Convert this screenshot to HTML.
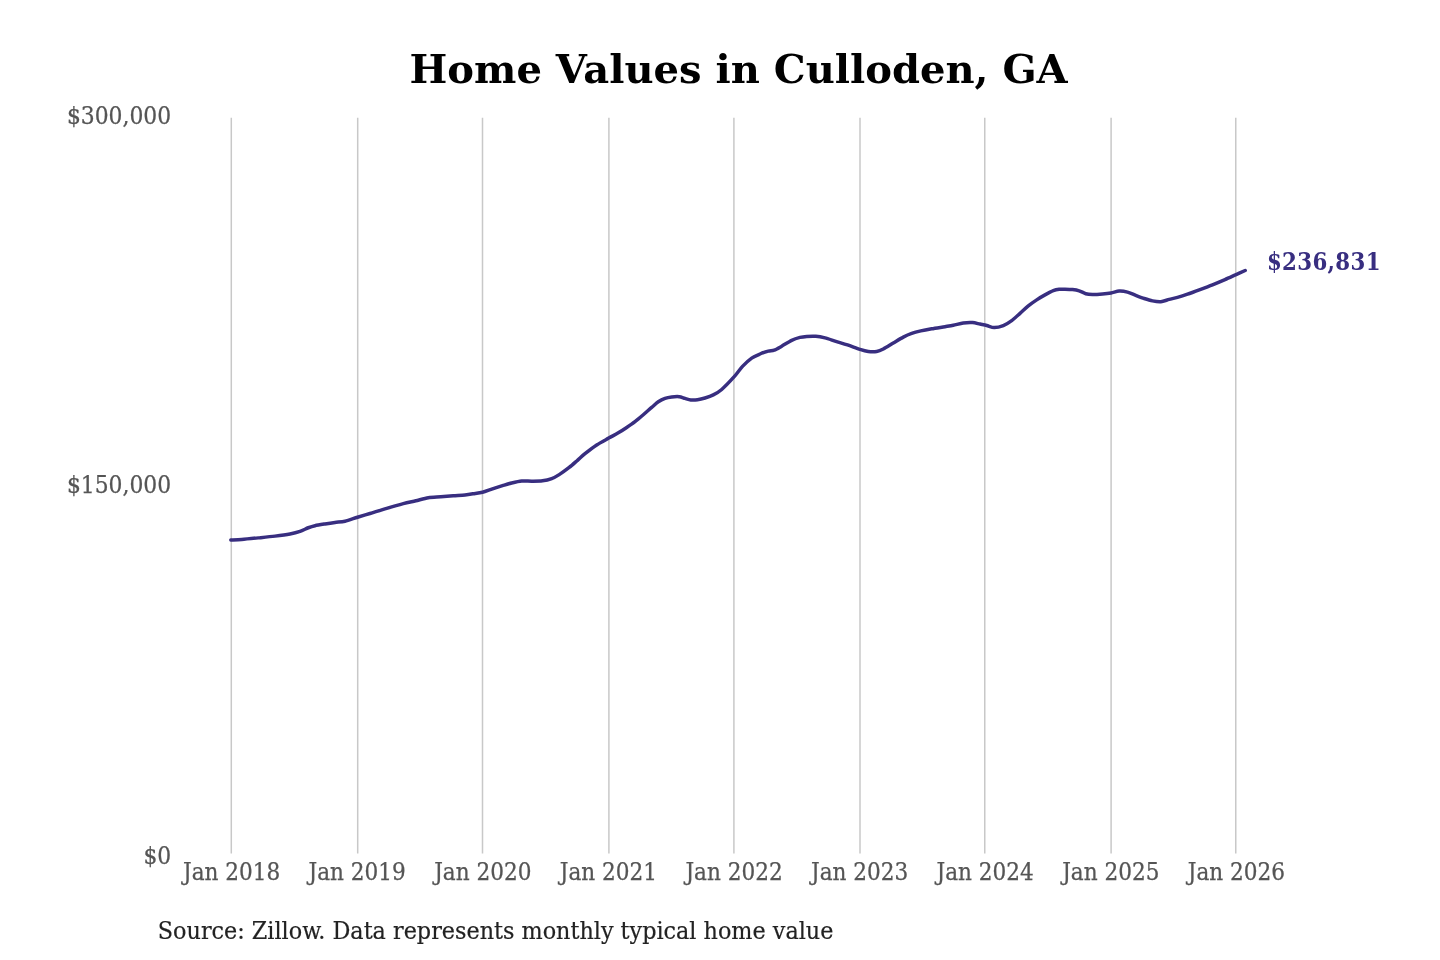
<!DOCTYPE html>
<html lang="en">
<head>
<meta charset="utf-8">
<title>Home Values in Culloden, GA</title>
<style>
html,body{margin:0;padding:0;background:#fff;}
body{width:1440px;height:960px;overflow:hidden;font-family:"DejaVu Serif","Liberation Serif",serif;}
svg{display:block;}
text{font-family:"DejaVu Serif","Liberation Serif",serif;}
.title{font-size:40.06px;font-weight:bold;fill:#000;}
.tick{font-family:"DejaVu Serif Condensed","DejaVu Serif","Liberation Serif",serif;font-stretch:condensed;font-size:24px;fill:#555;stroke:#555;stroke-width:0.25px;}
.ytick{font-size:24.3px;}
.src{font-family:"DejaVu Serif Condensed","DejaVu Serif","Liberation Serif",serif;font-stretch:condensed;font-size:24.8px;fill:#222;stroke:#222;stroke-width:0.2px;}
.end{font-family:"DejaVu Serif Condensed","DejaVu Serif","Liberation Serif",serif;font-stretch:condensed;font-size:23.7px;letter-spacing:0.35px;font-weight:bold;fill:#382e80;}
</style>
</head>
<body>
<svg width="1440" height="960" viewBox="0 0 1440 960">
<rect width="1440" height="960" fill="#ffffff"/>
<text class="title" x="738.6" y="82.8" text-anchor="middle">Home Values in Culloden, GA</text>
<g stroke="#c8c8c8" stroke-width="1.5">
<line x1="231.30" y1="117.8" x2="231.30" y2="853.5"/>
<line x1="357.70" y1="117.8" x2="357.70" y2="853.5"/>
<line x1="482.50" y1="117.8" x2="482.50" y2="853.5"/>
<line x1="608.90" y1="117.8" x2="608.90" y2="853.5"/>
<line x1="733.90" y1="117.8" x2="733.90" y2="853.5"/>
<line x1="860.00" y1="117.8" x2="860.00" y2="853.5"/>
<line x1="984.75" y1="117.8" x2="984.75" y2="853.5"/>
<line x1="1111.10" y1="117.8" x2="1111.10" y2="853.5"/>
<line x1="1235.75" y1="117.8" x2="1235.75" y2="853.5"/>
</g>
<text class="tick ytick" x="171.2" y="124.4" text-anchor="end">$300,000</text>
<text class="tick ytick" x="171.2" y="492.7" text-anchor="end">$150,000</text>
<text class="tick ytick" x="171.2" y="863.8" text-anchor="end">$0</text>
<text class="tick" x="231.60" y="879.5" text-anchor="middle">Jan 2018</text>
<text class="tick" x="357.20" y="879.5" text-anchor="middle">Jan 2019</text>
<text class="tick" x="482.80" y="879.5" text-anchor="middle">Jan 2020</text>
<text class="tick" x="608.40" y="879.5" text-anchor="middle">Jan 2021</text>
<text class="tick" x="734.00" y="879.5" text-anchor="middle">Jan 2022</text>
<text class="tick" x="859.60" y="879.5" text-anchor="middle">Jan 2023</text>
<text class="tick" x="985.20" y="879.5" text-anchor="middle">Jan 2024</text>
<text class="tick" x="1110.80" y="879.5" text-anchor="middle">Jan 2025</text>
<text class="tick" x="1236.40" y="879.5" text-anchor="middle">Jan 2026</text>
<path d="M230.80,540.00 C232.33,539.92 237.85,539.75 241.70,539.45 C245.55,539.16 253.64,538.35 258.30,537.88 C262.96,537.41 270.56,536.67 275.00,536.12 C279.44,535.57 286.50,534.61 290.00,533.95 C293.50,533.29 297.44,532.27 300.00,531.40 C302.56,530.53 306.20,528.56 308.30,527.76 C310.40,526.96 312.66,526.22 315.00,525.68 C317.34,525.14 322.20,524.36 325.00,523.90 C327.80,523.44 332.20,522.77 335.00,522.40 C337.80,522.03 341.85,521.97 345.00,521.25 C348.15,520.53 354.00,518.32 357.50,517.23 C361.00,516.15 365.91,514.72 370.00,513.47 C374.09,512.22 382.04,509.69 386.70,508.31 C391.36,506.92 399.23,504.65 403.30,503.59 C407.37,502.53 412.30,501.55 415.80,500.73 C419.30,499.91 424.80,498.29 428.30,497.74 C431.80,497.19 437.30,497.08 440.80,496.80 C444.30,496.52 449.91,496.04 453.30,495.78 C456.69,495.51 462.20,495.18 465.00,494.90 C467.80,494.62 470.85,494.15 473.30,493.78 C475.75,493.42 479.81,492.99 482.50,492.30 C485.19,491.61 489.70,489.76 492.50,488.84 C495.30,487.91 499.81,486.50 502.50,485.68 C505.19,484.86 509.01,483.63 511.70,482.98 C514.39,482.33 518.90,481.27 521.70,481.02 C524.50,480.76 528.79,481.19 531.70,481.17 C534.61,481.14 539.70,481.17 542.50,480.82 C545.30,480.46 549.36,479.49 551.70,478.63 C554.04,477.76 556.75,476.20 559.20,474.64 C561.65,473.08 566.64,469.49 569.20,467.49 C571.76,465.49 575.29,462.28 577.50,460.35 C579.71,458.42 582.31,455.85 585.00,453.70 C587.69,451.55 593.38,447.15 596.70,444.96 C600.03,442.78 605.73,439.79 608.75,438.09 C611.77,436.40 615.79,434.35 618.30,432.86 C620.81,431.37 624.36,429.05 626.70,427.48 C629.04,425.90 632.68,423.41 635.00,421.63 C637.32,419.85 640.96,416.77 643.30,414.77 C645.64,412.78 649.60,409.21 651.70,407.39 C653.80,405.58 656.44,403.06 658.30,401.80 C660.16,400.55 663.12,399.08 665.00,398.41 C666.88,397.73 669.71,397.23 671.70,396.99 C673.69,396.75 677.34,396.49 679.20,396.69 C681.06,396.89 683.38,397.95 685.00,398.40 C686.62,398.85 689.05,399.72 690.80,399.90 C692.55,400.08 695.51,399.97 697.50,399.70 C699.49,399.43 702.79,398.67 705.00,398.00 C707.21,397.33 710.96,396.10 713.30,394.90 C715.64,393.70 718.84,391.93 721.70,389.45 C724.56,386.97 730.84,380.43 733.75,377.20 C736.66,373.97 739.99,369.07 742.50,366.40 C745.01,363.73 749.25,359.86 751.70,358.13 C754.15,356.39 757.68,354.98 760.00,354.00 C762.32,353.02 766.31,351.63 768.30,351.10 C770.29,350.57 772.32,350.92 774.20,350.23 C776.08,349.54 779.25,347.59 781.70,346.20 C784.15,344.81 789.14,341.53 791.70,340.30 C794.26,339.07 797.90,337.95 800.00,337.40 C802.10,336.85 804.49,336.56 806.70,336.40 C808.91,336.24 813.24,336.04 815.80,336.25 C818.36,336.46 822.20,337.19 825.00,337.90 C827.80,338.61 832.65,340.35 835.80,341.33 C838.95,342.31 844.11,343.76 847.50,344.90 C850.89,346.04 857.09,348.53 860.00,349.45 C862.91,350.37 865.96,351.21 868.30,351.50 C870.64,351.79 874.60,351.85 876.70,351.50 C878.80,351.15 880.98,350.19 883.30,349.00 C885.62,347.81 890.50,344.67 893.30,343.00 C896.10,341.33 900.72,338.44 903.30,337.10 C905.88,335.76 909.25,334.27 911.70,333.40 C914.15,332.53 918.00,331.54 920.80,330.90 C923.60,330.26 928.31,329.39 931.70,328.80 C935.09,328.21 941.98,327.19 945.00,326.70 C948.02,326.21 950.74,325.82 953.30,325.30 C955.86,324.78 960.61,323.38 963.30,323.00 C965.99,322.62 970.16,322.42 972.50,322.58 C974.84,322.73 978.01,323.69 980.00,324.09 C981.99,324.50 984.71,324.96 986.70,325.45 C988.69,325.94 991.88,327.58 994.20,327.60 C996.52,327.62 1000.85,326.59 1003.30,325.60 C1005.75,324.61 1009.36,322.26 1011.70,320.55 C1014.04,318.84 1017.68,315.45 1020.00,313.40 C1022.32,311.35 1025.96,307.80 1028.30,305.90 C1030.64,304.00 1034.36,301.39 1036.70,299.85 C1039.04,298.31 1042.68,296.18 1045.00,294.90 C1047.32,293.62 1051.31,291.48 1053.30,290.70 C1055.29,289.92 1057.56,289.51 1059.20,289.30 C1060.84,289.09 1063.14,289.16 1065.00,289.20 C1066.86,289.24 1070.51,289.33 1072.50,289.56 C1074.49,289.78 1077.34,290.22 1079.20,290.80 C1081.06,291.38 1083.94,293.20 1085.80,293.70 C1087.66,294.20 1090.16,294.37 1092.50,294.40 C1094.84,294.43 1099.90,294.11 1102.50,293.90 C1105.10,293.69 1108.76,293.29 1111.10,292.90 C1113.44,292.51 1116.90,291.21 1119.20,291.10 C1121.50,290.99 1125.18,291.50 1127.50,292.10 C1129.82,292.70 1133.46,294.50 1135.80,295.40 C1138.14,296.30 1141.86,297.76 1144.20,298.53 C1146.54,299.30 1150.18,300.46 1152.50,300.90 C1154.82,301.34 1158.46,301.91 1160.80,301.70 C1163.14,301.49 1166.86,300.01 1169.20,299.40 C1171.54,298.79 1174.94,298.08 1177.50,297.35 C1180.06,296.62 1184.35,295.28 1187.50,294.20 C1190.65,293.12 1196.50,290.92 1200.00,289.60 C1203.50,288.28 1209.00,286.20 1212.50,284.80 C1216.00,283.40 1221.70,281.03 1225.00,279.60 C1228.30,278.17 1233.27,275.87 1236.10,274.60 C1238.93,273.33 1243.93,271.07 1245.20,270.50" fill="none" stroke="#382e80" stroke-width="3.5" stroke-linecap="round" stroke-linejoin="round"/>
<text class="end" x="1266.9" y="269.6">$236,831</text>
<text class="src" x="157.8" y="939.3">Source: Zillow. Data represents monthly typical home value</text>
</svg>
</body>
</html>
